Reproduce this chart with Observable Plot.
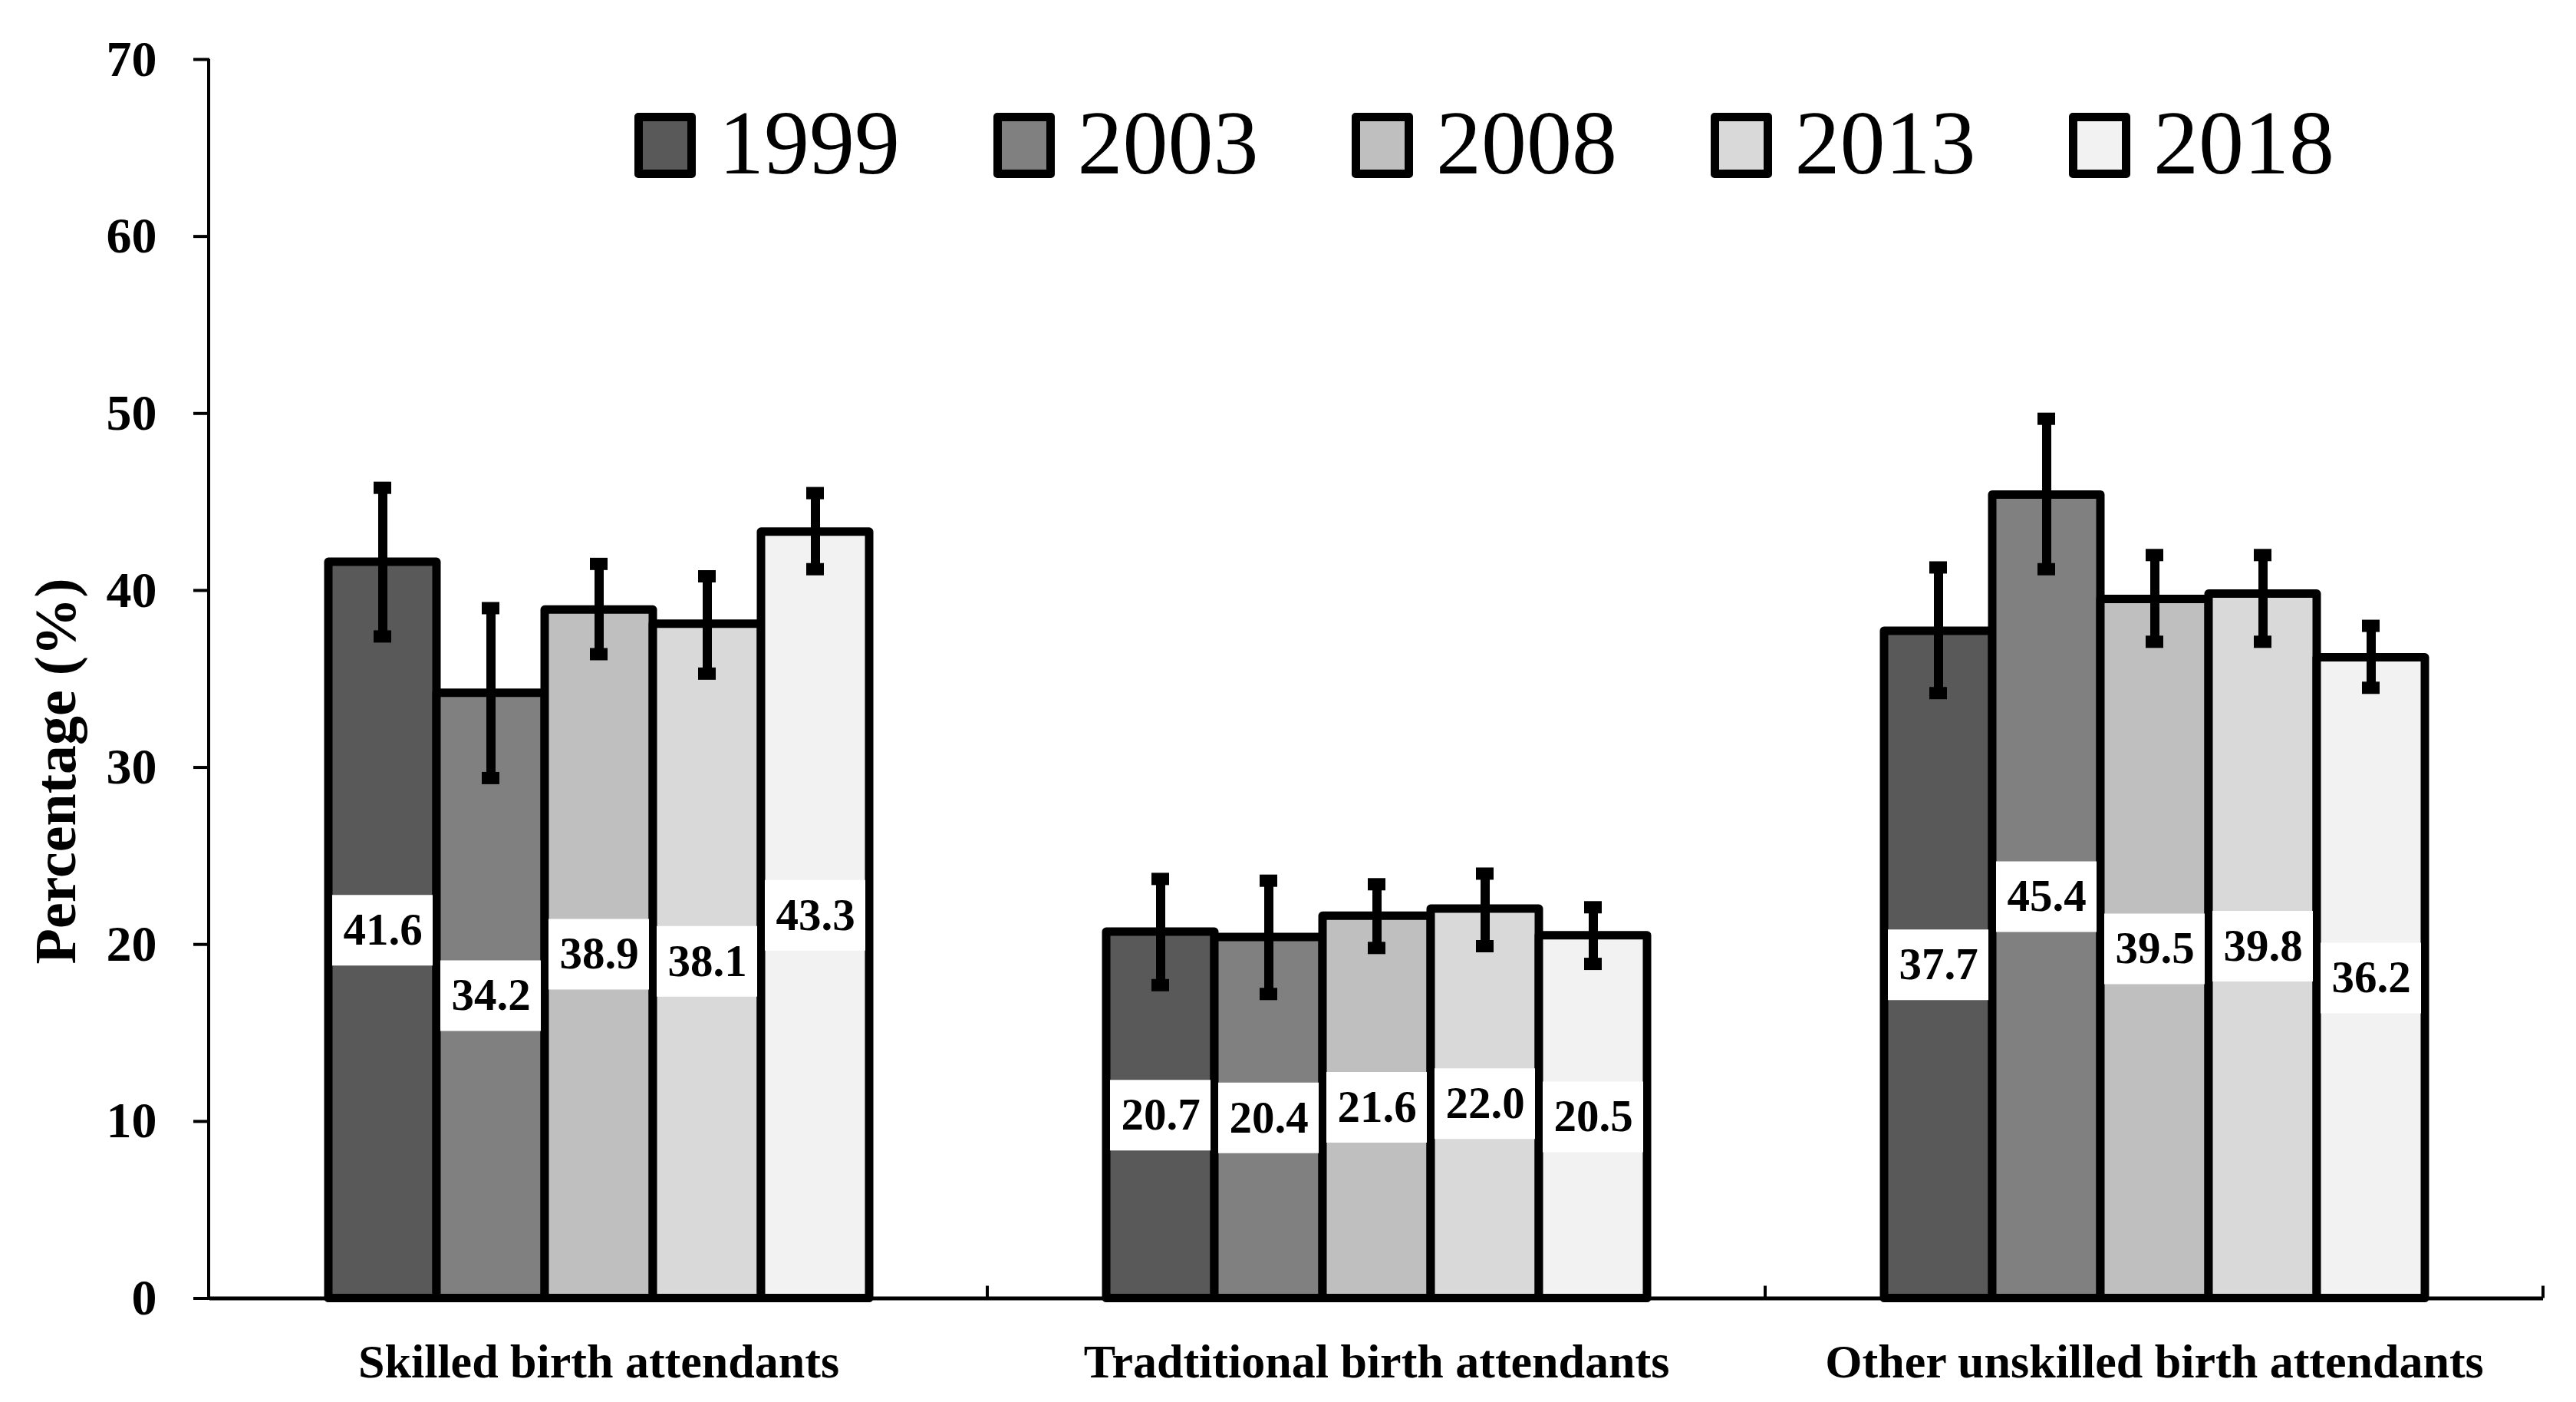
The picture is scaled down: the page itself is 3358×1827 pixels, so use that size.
<!DOCTYPE html>
<html>
<head>
<meta charset="utf-8">
<script src="https://cdn.jsdelivr.net/npm/d3@7"></script>
<script src="https://cdn.jsdelivr.net/npm/@observablehq/plot@0.6"></script>
<style>
  html, body { margin: 0; padding: 0; background: #fff; }
  #wrap { position: relative; width: 3358px; height: 1827px; overflow: hidden; }
  #legend { position: absolute; left: 827px; top: 128px; display: flex; font-family: "Liberation Serif", serif; }
  .item { width: 467.5px; display: flex; align-items: flex-start; }
  .sw { box-sizing: border-box; width: 80px; height: 85px; border: 11px solid #000; border-radius: 5px; margin-top: 19px; }
  .lab { margin-left: 30px; font-size: 118px; line-height: 118px; color: #000; }
</style>
</head>
<body>
<div id="wrap"><div id="legend"></div></div>
<script>
const categories = ["Skilled birth attendants", "Tradtitional birth attendants", "Other unskilled birth attendants"];
const years = ["1999", "2003", "2008", "2013", "2018"];
const colors = ["#595959", "#808080", "#bfbfbf", "#d9d9d9", "#f2f2f2"];
const yTicks = [0, 10, 20, 30, 40, 50, 60, 70];

const skilled = [41.6, 34.2, 38.9, 38.1, 43.3];
const skilledLow = [37.4, 29.4, 36.4, 35.3, 41.2];
const skilledHigh = [45.8, 39.0, 41.5, 40.8, 45.5];

const traditional = [20.7, 20.4, 21.6, 22.0, 20.5];
const traditionalLow = [17.7, 17.2, 19.8, 19.9, 18.9];
const traditionalHigh = [23.7, 23.6, 23.4, 24.0, 22.1];

const otherUnskilled = [37.7, 45.4, 39.5, 39.8, 36.2];
const otherLow = [34.2, 41.2, 37.1, 37.1, 34.5];
const otherHigh = [41.3, 49.7, 42.0, 42.0, 38.0];

const series = [
  [skilled, skilledLow, skilledHigh],
  [traditional, traditionalLow, traditionalHigh],
  [otherUnskilled, otherLow, otherHigh]
];
const rows = [];
categories.forEach((c, ci) => {
  years.forEach((yr, yi) => {
    rows.push({category: c, year: yr, value: series[ci][0][yi], low: series[ci][1][yi], high: series[ci][2][yi]});
  });
});

const FONT = "Liberation Serif";

const chart = Plot.plot({
  width: 3358,
  height: 1827,
  marginTop: 77,
  marginBottom: 135.5,
  marginLeft: 272,
  marginRight: 43,
  style: {fontFamily: FONT, fontWeight: "bold", color: "#000", background: "#fff", overflow: "visible"},
  fx: {domain: categories, padding: 0, label: null},
  x: {domain: years, paddingInner: 0, paddingOuter: 1.09, axis: null},
  y: {domain: [0, 70], axis: null},
  color: {domain: years, range: colors},
  marks: [
    Plot.ruleY([0], {stroke: "#000", strokeWidth: 5}),
    Plot.barY(rows, {fx: "category", x: "year", y: "value", fill: "year", stroke: "#000", strokeWidth: 11, strokeLinejoin: "round", inset: 0}),
    Plot.ruleX(rows, {fx: "category", x: "year", y1: "low", y2: "high", stroke: "#000", strokeWidth: 12}),
    Plot.tickY(rows, {fx: "category", x: "year", y: "low", stroke: "#000", strokeWidth: 16, insetLeft: 59, insetRight: 59}),
    Plot.tickY(rows, {fx: "category", x: "year", y: "high", stroke: "#000", strokeWidth: 16, insetLeft: 59, insetRight: 59}),
    Plot.tickY(rows, {fx: "category", x: "year", y: d => d.value / 2, stroke: "#fff", strokeWidth: 92, insetLeft: 5, insetRight: 5}),
    Plot.text(rows, {fx: "category", x: "year", y: d => d.value / 2, text: d => d.value.toFixed(1), fontSize: 59, fontWeight: "bold", fontFamily: FONT, fill: "#000"}),
    Plot.axisY({ticks: yTicks, tickSize: 21, tickPadding: 48, fontSize: 66, strokeWidth: 4, label: null, tickFormat: d => String(d)}),
    Plot.axisFx({anchor: "bottom", tickSize: 0, tickPadding: 59, fontSize: 62, label: null})
  ]
});

document.getElementById("wrap").appendChild(chart);

// extra axis furniture positioned through the library's scales
const svg = d3.select(chart);
const fxS = chart.scale("fx");
const yS = chart.scale("y");
const axisX = fxS.range[0];
svg.append("line")
  .attr("x1", axisX).attr("x2", axisX)
  .attr("y1", yS.apply(70)).attr("y2", yS.apply(0))
  .attr("stroke", "#000").attr("stroke-width", 4);
categories.forEach(c => {
  const xe = fxS.apply(c) + fxS.bandwidth;
  svg.append("line")
    .attr("x1", xe).attr("x2", xe)
    .attr("y1", yS.apply(0) - 16).attr("y2", yS.apply(0))
    .attr("stroke", "#000").attr("stroke-width", 4);
});
svg.append("text")
  .attr("transform", `translate(98, 1005) rotate(-90)`)
  .attr("text-anchor", "middle")
  .attr("font-family", FONT)
  .attr("font-weight", "bold")
  .attr("font-size", 76)
  .attr("fill", "#000")
  .text("Percentage (%)");

// legend
const legend = document.getElementById("legend");
years.forEach((yr, i) => {
  const it = document.createElement("div");
  it.className = "item";
  const sw = document.createElement("div");
  sw.className = "sw";
  sw.style.background = colors[i];
  const lab = document.createElement("div");
  lab.className = "lab";
  lab.textContent = yr;
  it.appendChild(sw);
  it.appendChild(lab);
  legend.appendChild(it);
});
document.getElementById("wrap").appendChild(legend);
</script>
</body>
</html>
